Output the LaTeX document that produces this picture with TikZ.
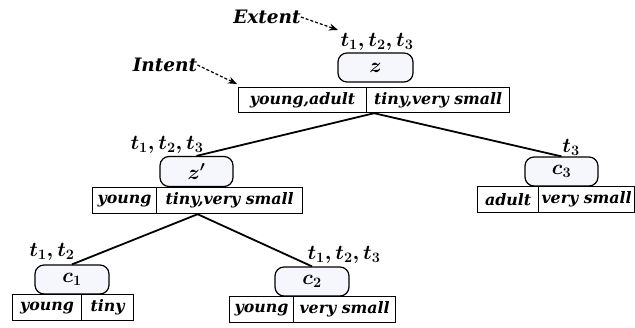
\documentclass[tikz,border=0pt]{standalone}
\usepackage{fontspec}
\newfontfamily\cellfont{DejaVu Serif}
\usetikzlibrary{calc,arrows.meta}
\definecolor{conceptfill}{HTML}{F5F7FC}
\begin{document}
\begin{tikzpicture}[x=1pt,y=-1pt,
  every node/.style={font=\cellfont\fontsize{15.8}{18}\selectfont\bfseries\itshape},
  concept/.style={draw,line width=1.2pt,fill=conceptfill,rounded corners=9pt,inner sep=0pt,font=\fontsize{22}{24}\selectfont\boldmath},
  cell/.style={draw,line width=1.2pt,inner sep=0pt,anchor=north west},
  branch/.style={line width=1.8pt},
  pointer/.style={line width=1.2pt,dash pattern=on 3pt off 2pt,-{Stealth[length=9pt,width=7pt]}},
  lbl/.style={inner sep=0pt,font=\fontsize{19.5}{21}\selectfont\boldmath},
  tag/.style={inner sep=0pt,font=\cellfont\fontsize{18.5}{21}\selectfont\bfseries\itshape}]
\useasboundingbox (0,0) rectangle (635,327);

% root concept z
\node[concept,minimum width=75pt,minimum height=29pt] (z) at (375.5,67.5) {$z$};
\node[lbl] (zext) at (377,42) {$t_1,t_2,t_3$};
\node[cell,minimum width=128pt,minimum height=25pt] (zl) at (238,87) {young,adult};
\node[cell,minimum width=143pt,minimum height=25pt] (zr) at (366,87) {tiny,very small};
\coordinate (zb) at ($(zl.south west)!0.5!(zr.south east)$);

\node[tag] (extent) at (267,17) {Extent};
\node[tag] (intent) at (165,65) {Intent};
\coordinate (extip) at (338,30);
\coordinate (intip) at (237,84);
\draw[pointer] (extent.east) -- (extip);
\draw[pointer] (intent.east) -- (intip);

% concept z'
\node[concept,minimum width=73pt,minimum height=30pt] (zp) at (196.5,171.5) {$z'$};
\node[lbl] (zpext) at (167,145) {$t_1,t_2,t_3$};
\node[cell,minimum width=64pt,minimum height=26pt] (zpl) at (92,187) {young};
\node[cell,minimum width=146pt,minimum height=26pt] (zpr) at (156,187) {tiny,very small};
\coordinate (zpb) at ($(zpl.south west)!0.5!(zpr.south east)$);

% concept c3
\node[concept,minimum width=73pt,minimum height=29pt] (c3) at (561.5,171.5) {$c_3$};
\node[lbl] (c3ext) at (571,147) {$t_3$};
\node[cell,minimum width=61pt,minimum height=26pt] (c3l) at (477,186) {adult};
\node[cell,minimum width=96pt,minimum height=26pt] (c3r) at (538,186) {very small};

% concept c1
\node[concept,minimum width=74pt,minimum height=29pt] (c1) at (72,279.5) {$c_1$};
\node[lbl] (c1ext) at (52,252) {$t_1,t_2$};
\node[cell,minimum width=69pt,minimum height=26pt] (c1l) at (12,294) {young};
\node[cell,minimum width=52pt,minimum height=26pt] (c1r) at (81,294) {tiny};

% concept c2
\node[concept,minimum width=74pt,minimum height=29pt] (c2) at (312,281.5) {$c_2$};
\node[lbl] (c2ext) at (344,255) {$t_1,t_2,t_3$};
\node[cell,minimum width=64pt,minimum height=26pt] (c2l) at (229,296) {young};
\node[cell,minimum width=102pt,minimum height=26pt] (c2r) at (293,296) {very small};

% tree edges
\draw[branch] (zb) -- (zp.north);
\draw[branch] (zb) -- (c3.north);
\draw[branch] (zpb) -- (c1.north);
\draw[branch] (zpb) -- (c2.north);
\end{tikzpicture}
\end{document}
